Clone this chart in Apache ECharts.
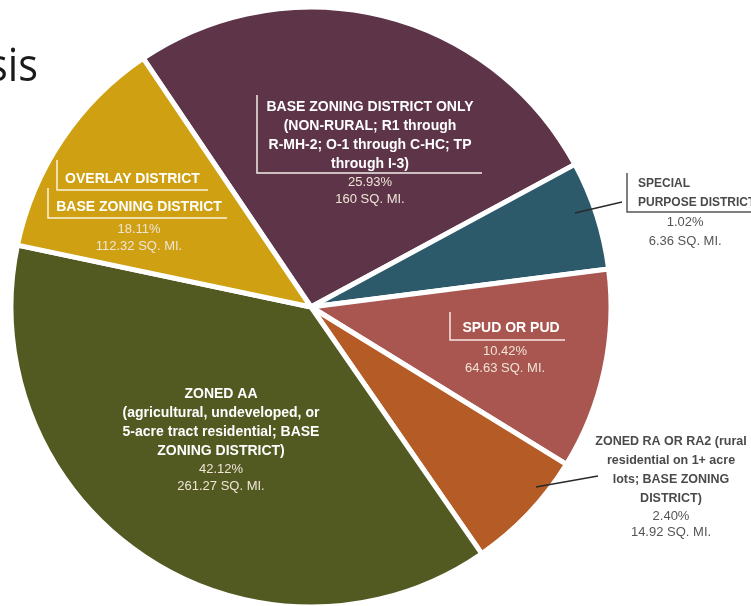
<!DOCTYPE html>
<html>
<head>
<meta charset="utf-8">
<script src="https://cdn.jsdelivr.net/npm/echarts@6/dist/echarts.min.js"></script>
<style>
html,body{margin:0;padding:0;background:#ffffff;}
#chart{width:751px;height:606px;}
</style>
</head>
<body>
<div id="chart"></div>
<script>
// ---- data ----
var categories = [
  'BASE ZONING DISTRICT ONLY\n(NON-RURAL; R1 through\nR-MH-2; O-1 through C-HC; TP\nthrough I-3)',
  'SPECIAL\nPURPOSE DISTRICT',
  'SPUD OR PUD',
  'ZONED RA OR RA2 (rural\nresidential on 1+ acre\nlots; BASE ZONING\nDISTRICT)',
  'ZONED AA\n(agricultural, undeveloped, or\n5-acre tract residential; BASE\nZONING DISTRICT)',
  'OVERLAY DISTRICT\nBASE ZONING DISTRICT'
];
// angular share (% of the full circle) of each wedge as drawn in the reference
var sliceShare = [26.56, 5.86, 10.81, 6.58, 37.94, 12.25];
var pctLabels = ['25.93%', '1.02%', '10.42%', '2.40%', '42.12%', '18.11%'];
var areaLabels = ['160 SQ. MI.', '6.36 SQ. MI.', '64.63 SQ. MI.', '14.92 SQ. MI.', '261.27 SQ. MI.', '112.32 SQ. MI.'];
var titleText = 'sis';

// ---- styles / layout ----
var colors = ['#5e3449', '#2c5a6a', '#a95650', '#b55b25', '#525a22', '#cea012'];
var FONT = '"Liberation Sans", Arial, sans-serif';
var titleKeys = [['t'], ['bt'], ['rt'], ['ot'], ['t'], ['yo', 'yb']];
var numKeys = ['n', 'bn', 'n', 'on', 'n', 'n'];
var outside = [false, true, false, true, false, false];
var labelAnchors = [
  { x: 370, y: 152.5, align: 'center' },
  { x: 638, y: 212.5, align: 'left' },
  { x: 505, y: 345, align: 'center' },
  { x: 671, y: 486.5, align: 'center' },
  { x: 221, y: 439.5, align: 'center' },
  { x: 139, y: 210, align: 'center' }
];

var rich = {
  t:  { color: '#ffffff', fontWeight: 'bold', fontSize: 14, lineHeight: 19, fontFamily: FONT },
  n:  { color: '#efe4d6', fontSize: 13, lineHeight: 17, fontFamily: FONT },
  yo: { color: '#ffffff', fontWeight: 'bold', fontSize: 14, lineHeight: 28, fontFamily: FONT, padding: [0, 13, 0, 0] },
  yb: { color: '#ffffff', fontWeight: 'bold', fontSize: 14, lineHeight: 28, fontFamily: FONT },
  rt: { color: '#ffffff', fontWeight: 'bold', fontSize: 14, lineHeight: 30, fontFamily: FONT, padding: [0, 0, 0, 12] },
  bt: { color: '#4a4a4a', fontWeight: 'bold', fontSize: 12, lineHeight: 19, fontFamily: FONT, align: 'left' },
  bn: { color: '#555555', fontSize: 13, lineHeight: 19, fontFamily: FONT, align: 'center', padding: [0, 23, 0, 0] },
  ot: { color: '#4a4a4a', fontWeight: 'bold', fontSize: 12.5, lineHeight: 19, fontFamily: FONT },
  on: { color: '#555555', fontSize: 13, lineHeight: 16, fontFamily: FONT }
};

function labelText(i) {
  var lines = categories[i].split('\n');
  var keys = titleKeys[i];
  var out = lines.map(function (ln, k) {
    return '{' + keys[Math.min(k, keys.length - 1)] + '|' + ln + '}';
  });
  out.push('{' + numKeys[i] + '|' + pctLabels[i] + '}');
  out.push('{' + numKeys[i] + '|' + areaLabels[i] + '}');
  return out.join('\n');
}

var data = categories.map(function (name, i) {
  return {
    name: name,
    value: sliceShare[i],
    itemStyle: { color: colors[i] },
    label: {
      show: true,
      position: outside[i] ? 'outside' : 'inside',
      formatter: labelText(i),
      rich: rich
    },
    labelLine: { show: false }
  };
});

function poly(points, color, w) {
  return {
    type: 'polyline',
    silent: true,
    z: 100,
    shape: { points: points },
    style: { stroke: color, lineWidth: w || 1.5, fill: null }
  };
}

var chart = echarts.init(document.getElementById('chart'), null, { renderer: 'canvas' });
chart.setOption({
  animation: false,
  backgroundColor: '#ffffff',
  series: [{
    type: 'pie',
    center: [311, 307],
    radius: [0, 300],
    startAngle: 124,
    clockwise: true,
    avoidLabelOverlap: false,
    silent: true,
    itemStyle: { borderColor: '#ffffff', borderWidth: 5 },
    label: { rotate: 0 },
    labelLayout: function (p) {
      var a = labelAnchors[p.dataIndex];
      return { x: a.x, y: a.y, align: a.align, verticalAlign: 'middle' };
    },
    data: data
  }],
  graphic: [
    {
      type: 'text',
      x: 38,
      y: 68,
      scaleX: 0.9,
      silent: true,
      style: { text: titleText, font: '46px "Open Sans", sans-serif', fill: '#1a1a1a', align: 'right', verticalAlign: 'middle' }
    },
    // label brackets
    poly([[257, 95], [257, 173], [482, 173]], '#f2ebe6'),
    poly([[57, 160], [57, 190], [208, 190]], '#fbf3df'),
    poly([[48, 188], [48, 218], [227, 218]], '#fbf3df'),
    poly([[450, 312], [450, 340], [565, 340]], '#f6e6e4'),
    poly([[627, 173], [627, 212], [751, 212]], '#555555'),
    // leader lines for the outside labels
    poly([[575, 213], [622, 202]], '#2a2a2a', 1.5),
    poly([[536, 487], [598, 476]], '#2a2a2a', 1.5)
  ]
});
</script>
</body>
</html>
